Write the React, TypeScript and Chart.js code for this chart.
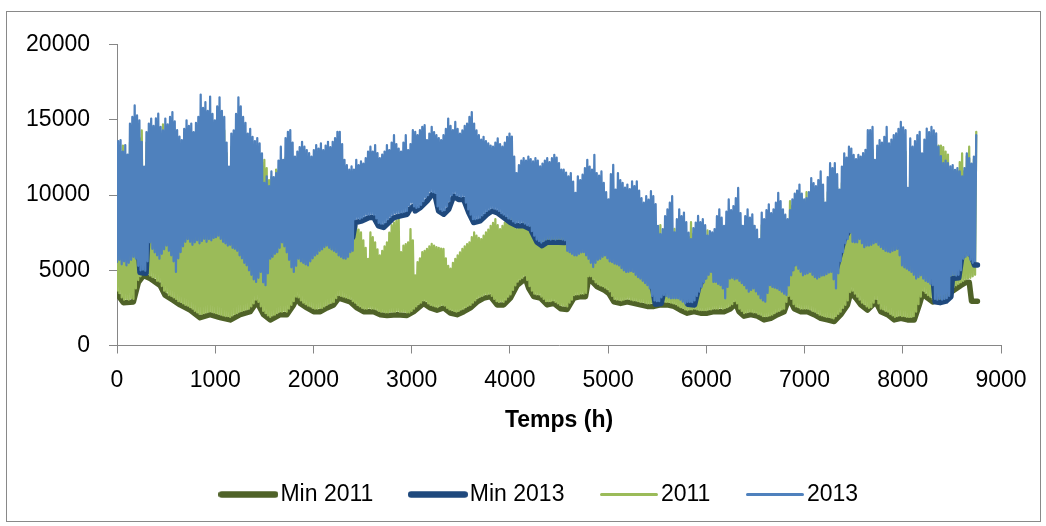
import React, { useEffect, useRef } from "react";
import { Chart, registerables } from "chart.js";

Chart.register(...registerables);

const FONT = "'Liberation Sans', Arial, sans-serif";
const AXIS_COLOR = "#868686";
const C_MIN_2011 = "#4F6228";
const C_MIN_2013 = "#1F497D";
const C_2011 = "#9BBB59";
const C_2013 = "#4F81BD";

const X_TICKS = [0, 1000, 2000, 3000, 4000, 5000, 6000, 7000, 8000, 9000];
const Y_TICKS = [0, 5000, 10000, 15000, 20000];
const SERIES_LABELS = ["Min 2011", "Min 2013", "2011", "2013"];
const X_TITLE = "Temps (h)";

// Daily night-time low and day-time high (one pair per day, 365 days)
const LOW_2013 = [
  5550, 5700, 5400, 5600, 5330, 5500, 5700, 5900, 5770, 5300,
  5000, 5050, 4980, 5600, 6860, 6430, 6200, 6000, 5770, 6100,
  6400, 6650, 6300, 6000, 5600, 4890, 5800, 6210, 6600, 6900,
  7080, 6900, 6700, 6860, 7000, 6800, 6950, 7100, 6900, 7080,
  7000, 7150, 7200, 7300, 7100, 6900, 6800, 6650, 6700, 6500,
  6430, 6300, 6000, 5800, 5500, 5330, 5000, 4700, 4400, 4230,
  4500, 4890, 4200, 4010, 4800, 5770, 5900, 6100, 6210, 6500,
  6860, 6600, 6200, 5700, 5200, 4890, 5300, 5770, 5600, 5500,
  5400, 5330, 5600, 5800, 5990, 6100, 6300, 6400, 6550, 6650,
  6500, 6400, 6300, 6210, 6000, 5900, 5800, 5770, 5900, 6210,
  6300, 8400, 8450, 8420, 8500, 8600, 8700, 8700, 8750, 8700,
  8450, 8150, 8100, 8100, 8200, 8400, 8550, 8700, 8800, 8800,
  8850, 8850, 8900, 8950, 9300, 9500, 9250, 9150, 9200, 9350,
  9600, 9850, 10000, 10250, 10200, 10150, 9250, 9050, 8950, 9000,
  9250, 9600, 10000, 10150, 10000, 9950, 9900, 9950, 9500, 9050,
  8700, 8400, 8400, 8450, 8500, 8650, 8800, 8950, 9050, 9150,
  9100, 9050, 8950, 8800, 8700, 8600, 8450, 8400, 8250, 8150,
  8200, 8150, 8200, 8100, 8000, 7950, 7600, 7300, 7050, 6950,
  6850, 6950, 7050, 7100, 7050, 7100, 7050, 7100, 7100, 7050,
  7000, 6300, 6206, 6100, 6000, 5987, 6100, 6200, 6206, 6000,
  5767, 5500, 5219, 5500, 5700, 5767, 5900, 5987, 5800, 5600,
  5548, 5450, 5400, 5329, 5150, 5000, 4890, 4900, 4950, 4890,
  4700, 4550, 4452, 4300, 4150, 4013, 3794, 3300, 3000, 2950,
  2950, 3200, 3355, 3300, 3200, 3136, 3150, 3136, 3136, 3050,
  2917, 2800, 2900, 2900, 2880, 3000, 3300, 3575, 3900, 4200,
  4452, 4700, 4890, 4232, 4232, 4100, 4013, 3800, 3136, 3900,
  4452, 4500, 4400, 4452, 4300, 4150, 4013, 3800, 3575, 3700,
  3794, 3600, 3400, 3136, 3000, 2917, 3500, 4013, 3900, 3850,
  3794, 3700, 3575, 3450, 3355, 4000, 4671, 5000, 5329, 5100,
  4900, 4671, 4750, 4800, 4890, 4700, 4550, 4452, 4550, 4650,
  4671, 4750, 4850, 4890, 4400, 3800, 4800, 5600, 6206, 6800,
  7083, 7522, 6900, 6864, 6864, 7083, 6800, 6535, 6645, 6645,
  6700, 6800, 6864, 6700, 6550, 6425, 6300, 6250, 6206, 6300,
  6350, 6425, 6000, 5329, 5200, 5110, 5000, 4890, 4700, 4452,
  4550, 4671, 4450, 4300, 4232, 4100, 4013, 3100, 3050, 3100,
  3050, 3100, 3150, 3300, 4671, 4700, 4650, 4700, 5000, 5767,
  5900, 5987, 5700, 5500, 5600,
];

const HIGH_2013 = [
  13600, 13660, 12900, 13330, 12700, 14760, 15200, 15970, 15300, 14980,
  13550, 11900, 14200, 14760, 15090, 14600, 15100, 15420, 14540, 14300,
  15090, 14700, 15200, 15530, 14900, 14320, 13900, 13660, 14400, 14980,
  14600, 14760, 14200, 14800, 15200, 16690, 15800, 16180, 15600, 16560,
  15400, 14980, 15900, 16510, 15600, 15200, 13500, 11900, 14100, 14300,
  15400, 16510, 15900, 15200, 14800, 14100, 14400, 13880, 13600, 13800,
  13440, 12785, 10811, 11250, 10600, 11580, 11200, 11470, 12300, 13220,
  12350, 13800, 14210, 14320, 13500, 12570, 12900, 13200, 13550, 13220,
  13000, 12800, 12570, 13000, 13330, 13100, 13440, 13000, 13300, 13550,
  13200, 13550, 13800, 14210, 14210, 13400, 12350, 12000, 11690, 11910,
  11700, 12350, 12000, 12240, 12100, 12460, 12900, 13220, 12900, 13330,
  12800, 12460, 12700, 12900, 13330, 13000, 13500, 13990, 13400, 13100,
  12900, 13500, 13990, 13000, 13400, 14320, 14210, 14000, 14320, 14540,
  14650, 13660, 14100, 14540, 14200, 13990, 13800, 13660, 13990, 14400,
  15090, 14600, 14320, 14870, 14400, 14100, 14300, 14600, 14760, 15200,
  15530, 14760, 14300, 13990, 13700, 13880, 13600, 13440, 13300, 13220,
  13500, 13770, 13400, 13220, 13500, 13880, 14100, 13900, 12570, 11470,
  12000, 12300, 12460, 12300, 12570, 12400, 12240, 12460, 12300, 11910,
  12100, 12300, 12460, 12200, 12460, 12680, 12500, 12130, 11700, 11690,
  11500, 11250, 11470, 10900, 10150, 11250, 11000, 11360, 11800, 12350,
  11900, 11690, 12680, 11470, 11300, 11580, 10810, 10200, 9715, 11400,
  12020, 10370, 11470, 11000, 10810, 10500, 10700, 10400, 10920, 10600,
  10920, 10300, 9800, 9495, 9934, 9700, 10263, 9934, 9400, 7960,
  7400, 7741, 8600, 9057, 9500, 9934, 7522, 8400, 9057, 8600,
  8838, 8200, 7500, 7083, 7800, 8180, 8618, 8200, 8399, 8000,
  7302, 7600, 7522, 7741, 8600, 9057, 8500, 7960, 8900, 9715,
  9000, 9276, 9800, 10482, 8800, 7960, 8600, 9057, 8500, 8728,
  7960, 7700, 7083, 8838, 8400, 9000, 9386, 8800, 9057, 9500,
  10153, 9600, 9057, 8700, 8399, 9000, 9715, 10100, 10300, 10701,
  10100, 9715, 9800, 10200, 11140, 10800, 10592, 11000, 11579, 10700,
  9495, 11200, 12127, 11800, 12127, 11400, 10373, 11900, 12785, 12500,
  13224, 13100, 12675, 12400, 12675, 12566, 12800, 13004, 14320, 14320,
  14539, 12346, 13300, 13662, 13500, 13882, 14539, 13443, 13700, 13991,
  14101, 14400, 14868, 14500, 14320, 10482, 13772, 13224, 13600, 13991,
  14210, 12785, 13700, 14430, 14200, 14539, 14300, 14101, 13224, 12600,
  12127, 12300, 12127, 11908, 12000, 11689, 11800, 11579, 11250, 11800,
  12785, 12456, 12100, 12566, 13991,
];

const LOW_2011 = [
  3650, 3480, 3200, 3050, 3100, 3050, 3150, 3100, 3800, 4350,
  4600, 4850, 4800, 4750, 4650, 4550, 4500, 4300, 4250, 3950,
  3650, 3550, 3350, 3300, 3200, 3100, 2950, 2900, 2800, 2700,
  2650, 2550, 2450, 2300, 2200, 2100, 2100, 2150, 2200, 2250,
  2250, 2200, 2150, 2100, 2050, 2000, 1950, 1950, 1900, 2000,
  2100, 2150, 2250, 2300, 2350, 2400, 2450, 2600, 2800, 3050,
  2900, 2600, 2300, 2150, 2000, 1900, 2000, 2050, 2150, 2250,
  2250, 2300, 2250, 2450, 2700, 2950, 3250, 3200, 3000, 2850,
  2750, 2650, 2600, 2500, 2450, 2450, 2500, 2500, 2600, 2700,
  2800, 2850, 2900, 3150, 3350, 3300, 3250, 3200, 3150, 3100,
  2950, 2850, 2700, 2600, 2500, 2450, 2450, 2500, 2450, 2450,
  2400, 2300, 2250, 2250, 2200, 2200, 2250, 2250, 2250, 2300,
  2250, 2250, 2250, 2200, 2200, 2300, 2450, 2600, 2750, 2850,
  3000, 2950, 2800, 2700, 2650, 2600, 2550, 2650, 2700, 2650,
  2500, 2400, 2350, 2300, 2250, 2300, 2400, 2450, 2550, 2650,
  2700, 2850, 3000, 3150, 3250, 3300, 3400, 3400, 3450, 3300,
  3100, 2950, 2900, 2950, 2900, 3050, 3250, 3400, 3700, 4000,
  4250, 4400, 4500, 4650, 4350, 3950, 3650, 3450, 3400, 3400,
  3250, 3100, 2950, 2950, 2950, 3000, 2900, 2800, 2700, 2650,
  2650, 2600, 2850, 3050, 3350, 3400, 3400, 3450, 3450, 3500,
  4600, 4600, 4400, 4200, 4100, 4000, 3950, 3850, 3750, 3600,
  3300, 3100, 3050, 3050, 3000, 3050, 3100, 3100, 3050, 3000,
  3000, 2950, 2900, 2900, 2850, 2800, 2800, 2850, 2800, 2850,
  2900, 2900, 2950, 2900, 2900, 2850, 2800, 2750, 2650, 2550,
  2500, 2400, 2350, 2400, 2400, 2450, 2400, 2350, 2350, 2350,
  2350, 2400, 2400, 2450, 2450, 2450, 2500, 2450, 2500, 2550,
  2650, 2750, 2950, 2800, 2450, 2300, 2150, 2200, 2250, 2250,
  2200, 2200, 2100, 2050, 1950, 1950, 1950, 2000, 2050, 2150,
  2250, 2300, 2400, 2450, 2900, 3300, 3100, 2750, 2600, 2550,
  2450, 2450, 2450, 2450, 2400, 2300, 2250, 2150, 2050, 2000,
  1950, 1900, 1900, 1850, 1800, 1950, 2100, 2250, 2500, 2700,
  3000, 3550, 3650, 3450, 3250, 3050, 2850, 2750, 2600, 2500,
  2550, 2850, 3100, 2800, 2450, 2400, 2300, 2250, 2100, 2000,
  1900, 1950, 2000, 1950, 1950, 1900, 1900, 1900, 1950, 2250,
  2750, 3250, 3650, 3500, 3350, 3250, 3100, 3150, 3250, 3350,
  3400, 3500, 3600, 3700, 3800, 3900, 4000, 4100, 4200, 4300,
  4400, 4450, 4500, 4600, 4700,
];

const HIGH_2011 = [
  12500, 12800, 13300, 12500, 12000, 13500, 13800, 14200, 13900, 13800,
  14300, 11000, 13500, 13800, 14000, 13600, 14000, 14300, 13800, 14700,
  14000, 13800, 14200, 14500, 14000, 13500, 13000, 12900, 13500, 14000,
  13800, 13900, 13500, 13900, 14300, 15000, 14800, 15000, 14700, 15200,
  14600, 14200, 14800, 15200, 14700, 14300, 12800, 11000, 13200, 13400,
  14300, 15000, 14800, 14300, 13900, 13300, 13500, 13000, 12800, 12900,
  12600, 12200, 12350, 11800, 11000, 11200, 10800, 11700, 11600, 12300,
  11500, 12500, 13000, 13000, 12500, 11800, 12000, 12300, 12500, 12200,
  12000, 11800, 11600, 12000, 12300, 12100, 12400, 12000, 12300, 12500,
  12200, 12500, 12800, 13000, 13000, 12400, 11500, 10500, 9500, 9000,
  8600, 7960, 7700, 7522, 7000, 6500, 5767, 7522, 7200, 6864,
  6400, 5987, 6300, 6600, 6864, 7500, 8000, 8180, 8300, 8399,
  6206, 6645, 6750, 6864, 7740, 7000, 4670, 5548, 5800, 6206,
  6300, 6425, 6600, 6754, 6650, 6535, 6500, 6450, 6425, 5800,
  5300, 5110, 5500, 5767, 6000, 6200, 6425, 6600, 6750, 6864,
  7200, 7522, 7300, 7150, 7083, 7300, 7522, 7700, 7960, 8150,
  8399, 8000, 7741, 7950, 8180, 8400, 8618, 8550, 8509, 7741,
  7900, 8050, 8180, 8100, 8000, 7960, 7850, 7741, 7600, 7500,
  7600, 7700, 7500, 7600, 7400, 7700, 7500, 7600, 7400, 7500,
  7600, 7800, 8000, 8200, 8100, 8300, 8000, 8200, 8400, 8100,
  8300, 8000, 8500, 8200, 8400, 8100, 8300, 8000, 8200, 8400,
  8300, 8000, 8200, 8400, 8100, 8300, 8000, 8200, 8400, 8100,
  8300, 8000, 8200, 8400, 8100, 8300, 8000, 8200, 7900, 7500,
  8000, 7300, 7200, 7400, 7300, 7200, 7750, 7300, 7200, 7100,
  7300, 7000, 7200, 8200, 7400, 7300, 7400, 7200, 7300, 7100,
  7650, 7200, 7100, 7300, 7500, 8000, 7800, 7400, 8000, 8500,
  8200, 8500, 8600, 8800, 8000, 7300, 7800, 8200, 7800, 8000,
  7300, 7100, 6600, 8000, 7800, 8200, 8500, 8100, 8300, 8700,
  9000, 8800, 8400, 8200, 8000, 9600, 9300, 9300, 9400, 9600,
  9300, 9000, 10200, 9500, 10000, 9800, 9700, 10000, 10400, 9800,
  9000, 10200, 11000, 10800, 11000, 10500, 9800, 10800, 11500, 11300,
  12000, 11800, 11500, 11300, 11500, 11400, 11600, 11800, 12800, 12900,
  13000, 11500, 12200, 12500, 12300, 12600, 13000, 12300, 12500, 12700,
  12800, 13000, 13300, 13000, 12900, 10000, 12500, 12100, 12400, 12700,
  12900, 11800, 12500, 13000, 12900, 13200, 13000, 12900, 13300, 13300,
  13200, 12900, 12700, 11700, 11600, 11500, 11600, 12200, 12785, 11600,
  12600, 13224, 12000, 12400, 14210,
];

// [hour, value] points of the two minimum curves
const MIN_2011_POINTS: [number, number][] = [
  [0, 3450], [65, 2850], [167, 2900], [218, 4200], [269, 4650], [337, 4450], [438, 4000], [489, 3350],
  [574, 3000], [642, 2700], [744, 2350], [846, 1850], [948, 2050], [1050, 1850], [1152, 1700], [1254, 2050],
  [1356, 2250], [1424, 2900], [1492, 2050], [1560, 1700], [1662, 2050], [1730, 2050], [1798, 2700], [1832, 3150],
  [1866, 2800], [1934, 2500], [2002, 2250], [2070, 2250], [2138, 2500], [2206, 2700], [2257, 3150], [2307, 3050],
  [2375, 2900], [2443, 2500], [2511, 2250], [2613, 2250], [2681, 2050], [2749, 2000], [2850, 2050], [2953, 2000],
  [3021, 2250], [3122, 2800], [3190, 2500], [3258, 2350], [3326, 2500], [3394, 2150], [3462, 2050], [3530, 2250],
  [3598, 2500], [3666, 2900], [3734, 3150], [3802, 3250], [3869, 2700], [3937, 2700], [4005, 3150], [4073, 4000],
  [4158, 4450], [4192, 3800], [4243, 3250], [4311, 3150], [4379, 2700], [4447, 2800], [4515, 2450], [4583, 2400],
  [4651, 3150], [4719, 3250], [4770, 3250], [4804, 4550], [4838, 4250], [4889, 3900], [4957, 3700], [5008, 3450],
  [5059, 2900], [5127, 2800], [5195, 2900], [5263, 2800], [5330, 2700], [5398, 2600], [5466, 2600], [5534, 2700],
  [5602, 2700], [5670, 2600], [5738, 2350], [5806, 2150], [5874, 2250], [5942, 2150], [6010, 2150], [6078, 2250],
  [6180, 2250], [6248, 2450], [6299, 2800], [6333, 2250], [6384, 1950], [6452, 2050], [6520, 1950], [6588, 1700],
  [6656, 1800], [6724, 2050], [6792, 2250], [6843, 3150], [6894, 2450], [6962, 2250], [7030, 2250], [7098, 2050],
  [7165, 1800], [7233, 1700], [7301, 1600], [7369, 2050], [7437, 2700], [7471, 3550], [7522, 3150], [7573, 2700],
  [7641, 2350], [7726, 2900], [7777, 2250], [7845, 2050], [7913, 1700], [7981, 1800], [8049, 1700], [8117, 1700],
  [8168, 2700], [8202, 3450], [8253, 3150], [8304, 2900], [8388, 3150], [8490, 3550], [8592, 4000], [8643, 4200],
  [8677, 4200], [8700, 2950], [8760, 2950],
];

const MIN_2013_POINTS: [number, number][] = [
  [0, 6600], [216, 6600], [234, 4850], [296, 4800], [312, 7000], [330, 7500], [1250, 8000], [1300, 7000], [1550, 6000],
  [1650, 7500], [1800, 7000], [2000, 7200], [2400, 7200],
  [2426, 8180], [2496, 8290], [2568, 8509], [2616, 8509], [2662, 7960], [2714, 7850], [2767, 8180], [2818, 8509],
  [2885, 8618], [2954, 8728], [2986, 9100], [3022, 9276], [3036, 8948], [3086, 9167], [3156, 9605], [3206, 10044],
  [3240, 9934], [3274, 8948], [3326, 8728], [3377, 9057], [3427, 9934], [3478, 9715], [3530, 9715], [3581, 8838],
  [3631, 8180], [3698, 8290], [3768, 8728], [3818, 8948], [3869, 8838], [3938, 8509], [4006, 8180], [4073, 7960],
  [4140, 7960], [4210, 7741], [4277, 6864], [4327, 6645], [4380, 6864], [4498, 6864], [4560, 6850],
  [4600, 7200], [4800, 6800], [5000, 6600], [5200, 5800], [5350, 5300], [5440, 4400],
  [5480, 2750], [5540, 2800], [5570, 3700], [5700, 3800], [5770, 3600], [5810, 2750], [5880, 2700],
  [5920, 3800], [6000, 5000], [6050, 5400], [6200, 4800], [6300, 5200], [6450, 4600], [6600, 4300], [6700, 4800],
  [6850, 5000], [6900, 5800], [7050, 5800], [7250, 5600], [7320, 5000], [7400, 7000], [7480, 8000], [7600, 7700],
  [7800, 7500], [7950, 7200], [8000, 6200], [8150, 5500], [8300, 5000],
  [8330, 2900], [8380, 2850], [8440, 2950], [8490, 3250], [8505, 4450], [8570, 4500], [8610, 6300], [8680, 6300],
  [8730, 5350], [8760, 5350],
];

function dailyToPoints(lows: number[], highs: number[]) {
  const pts: { x: number; y: number }[] = [];
  for (let d = 0; d < lows.length; d++) {
    pts.push({ x: d * 24, y: lows[d] });
    pts.push({ x: d * 24 + 12, y: highs[d] });
  }
  return pts;
}

function pairsToPoints(p: [number, number][]) {
  return p.map(([x, y]) => ({ x, y }));
}

function lineImage(color: string, thickness: number, length: number) {
  const c = document.createElement("canvas");
  const h = Math.ceil(thickness) + 2;
  c.width = length;
  c.height = h;
  const ctx = c.getContext("2d")!;
  ctx.strokeStyle = color;
  ctx.lineWidth = thickness;
  ctx.lineCap = "round";
  ctx.beginPath();
  ctx.moveTo(thickness / 2, h / 2);
  ctx.lineTo(length - thickness / 2, h / 2);
  ctx.stroke();
  return c;
}

// moves the bottom legend sideways so that it sits where the reference has it
const legendShift = {
  id: "legendShift",
  afterLayout(chart: any) {
    const lg = chart.legend;
    if (lg) {
      lg.left += 39;
      lg.right += 39;
    }
  },
};

export default function App() {
  const ref = useRef<HTMLCanvasElement | null>(null);

  useEffect(() => {
    if (!ref.current) return;
    const legendImages = [
      lineImage(C_MIN_2011, 6.5, 60),
      lineImage(C_MIN_2013, 6.5, 60),
      lineImage(C_2011, 3, 58),
      lineImage(C_2013, 3, 58),
    ];
    const common = {
      pointRadius: 0,
      pointHoverRadius: 0,
      tension: 0,
      borderJoinStyle: "round" as const,
      borderCapStyle: "round" as const,
      fill: false,
    };
    const tickFont = { family: FONT, size: 23 };
    const chart = new Chart(ref.current, {
      type: "line",
      data: {
        datasets: [
          { ...common, label: SERIES_LABELS[0], data: pairsToPoints(MIN_2011_POINTS), borderColor: C_MIN_2011, backgroundColor: C_MIN_2011, borderWidth: 5.5, order: 4 },
          { ...common, label: SERIES_LABELS[1], data: pairsToPoints(MIN_2013_POINTS), borderColor: C_MIN_2013, backgroundColor: C_MIN_2013, borderWidth: 5.5, order: 2 },
          { ...common, label: SERIES_LABELS[2], data: dailyToPoints(LOW_2011, HIGH_2011), borderColor: C_2011, backgroundColor: C_2011, borderWidth: 2.25, order: 3 },
          { ...common, label: SERIES_LABELS[3], data: dailyToPoints(LOW_2013, HIGH_2013), borderColor: C_2013, backgroundColor: C_2013, borderWidth: 2.25, order: 1 },
        ],
      },
      options: {
        responsive: false,
        animation: false,
        events: [],
        layout: { padding: { left: 0, right: 39, top: 29, bottom: 5 } },
        scales: {
          x: {
            type: "linear",
            min: 0,
            max: 9000,
            afterBuildTicks: (s: any) => {
              s.ticks = X_TICKS.map((v) => ({ value: v }));
            },
            afterFit: (s: any) => {
              s.height = 93.5;
            },
            grid: { display: true, drawOnChartArea: false, drawTicks: true, tickLength: 8, color: AXIS_COLOR, lineWidth: 1 },
            border: { display: true, color: AXIS_COLOR, width: 1 },
            ticks: { padding: 13, color: "#000", font: tickFont, maxRotation: 0, autoSkip: false, callback: (v: any) => String(v) },
            title: { display: true, text: X_TITLE, color: "#000", font: { family: FONT, size: 23, weight: "bold" }, padding: { top: 0, bottom: 4.5 } },
          },
          y: {
            type: "linear",
            min: 0,
            max: 20000,
            afterBuildTicks: (s: any) => {
              s.ticks = Y_TICKS.map((v) => ({ value: v }));
            },
            afterFit: (s: any) => {
              s.width = 110;
            },
            grid: { display: true, drawOnChartArea: false, drawTicks: true, tickLength: 8, color: AXIS_COLOR, lineWidth: 1 },
            border: { display: true, color: AXIS_COLOR, width: 1 },
            ticks: { padding: 19, color: "#000", font: tickFont, callback: (v: any) => String(v) },
          },
        },
        plugins: {
          tooltip: { enabled: false },
          legend: {
            display: true,
            position: "bottom",
            labels: {
              usePointStyle: true,
              pointStyleWidth: 41,
              padding: 44,
              color: "#000",
              font: { family: FONT, size: 23 },
              generateLabels: (ch: any) =>
                ch.data.datasets.map((ds: any, i: number) => ({
                  text: ds.label,
                  pointStyle: legendImages[i],
                  fillStyle: ds.borderColor,
                  strokeStyle: ds.borderColor,
                  lineWidth: 0,
                  hidden: false,
                  datasetIndex: i,
                  fontColor: "#000",
                })),
            },
          },
        },
      } as any,
      plugins: [legendShift],
    });
    return () => chart.destroy();
  }, []);

  return (
    <div
      style={{
        position: "absolute",
        left: 6,
        top: 11,
        width: 1033,
        height: 509,
        border: "1px solid #898989",
        background: "#fff",
      }}
    >
      <canvas ref={ref} width={1033} height={509} style={{ display: "block", width: 1033, height: 509 }} />
    </div>
  );
}
